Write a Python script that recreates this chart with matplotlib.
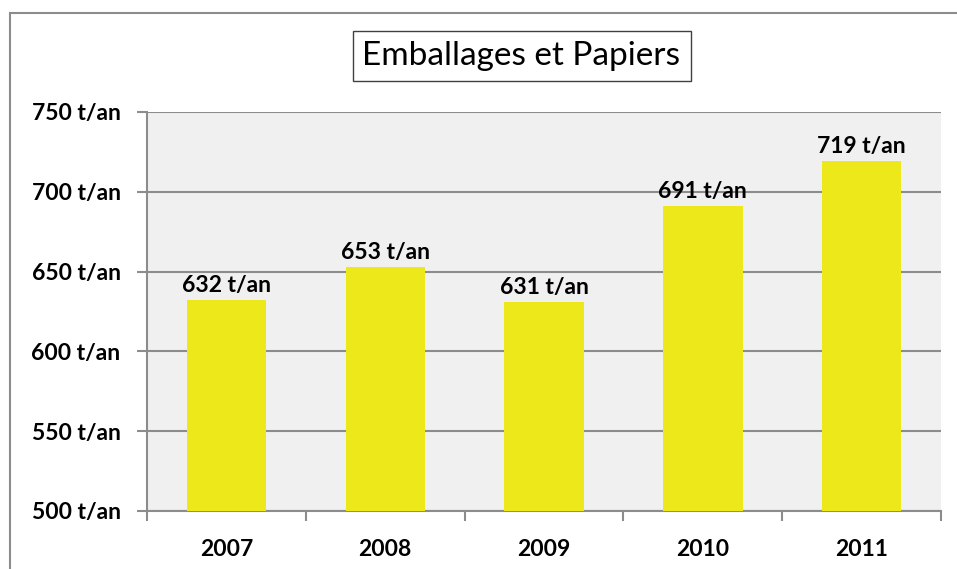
import matplotlib.pyplot as plt
from matplotlib.patches import Rectangle
import numpy as np

YEARS = ["2007", "2008", "2009", "2010", "2011"]
TONNES = [632, 653, 631, 691, 719]
Y_TICKS = [500, 550, 600, 650, 700, 750]
TITLE = "Emballages et Papiers"

BAR_COLOR = "#ece81a"
BG_COLOR = "#f0f0f0"
LINE_COLOR = "#8c8c8c"

plt.rcParams["font.family"] = ["Lato", "DejaVu Sans"]

fig = plt.figure(figsize=(9.57, 5.69), dpi=100)
W, H = 957, 569

# outer chart border (runs off the right and bottom edges)
fig.patches.append(Rectangle((10 / W, -0.05), 1.0, 1 - 13 / H + 0.05,
                             transform=fig.transFigure, fill=False,
                             edgecolor=LINE_COLOR, lw=1.5))

ax = fig.add_axes([147 / W, 1 - 511 / H, (941 - 147) / W, (511 - 112) / H])
ax.set_facecolor(BG_COLOR)

x = np.arange(len(YEARS))
ax.bar(x, TONNES, width=0.5, color=BAR_COLOR, zorder=3)

for xi, v in zip(x, TONNES):
    ax.text(xi, v + 2.5, f"{v} t/an", ha="center", va="bottom",
            fontsize=16.5, fontweight="bold", zorder=4)

ax.set_xlim(-0.5, len(YEARS) - 0.5)
ax.set_ylim(Y_TICKS[0], Y_TICKS[-1])
ax.set_yticks(Y_TICKS)
ax.set_yticklabels([f"{t} t/an" for t in Y_TICKS], fontsize=16.5, fontweight="bold")
ax.yaxis.grid(True, color=LINE_COLOR, lw=1.5, zorder=1)
ax.set_axisbelow(True)

# category labels at centres, tick marks at boundaries
ax.set_xticks(x)
ax.set_xticklabels(YEARS, fontsize=16.5, fontweight="bold")
ax.tick_params(axis="x", length=0, pad=20)
ax.set_xticks(np.arange(len(YEARS) + 1) - 0.5, minor=True)
ax.tick_params(axis="x", which="minor", length=7, color=LINE_COLOR, width=1.5, direction="out")
ax.tick_params(axis="y", length=7, color=LINE_COLOR, width=1.5, pad=12)

for side in ("top", "right"):
    ax.spines[side].set_visible(False)
for side in ("left", "bottom"):
    ax.spines[side].set_color(LINE_COLOR)
    ax.spines[side].set_linewidth(1.5)

fig.text((350 + 693) / 2 / W, 1 - 56 / H, TITLE, ha="center", va="center",
         fontsize=24,
         bbox=dict(boxstyle="square,pad=0.3", facecolor="white",
                   edgecolor="#404040", lw=1))

fig.savefig("out.png", dpi=100)
